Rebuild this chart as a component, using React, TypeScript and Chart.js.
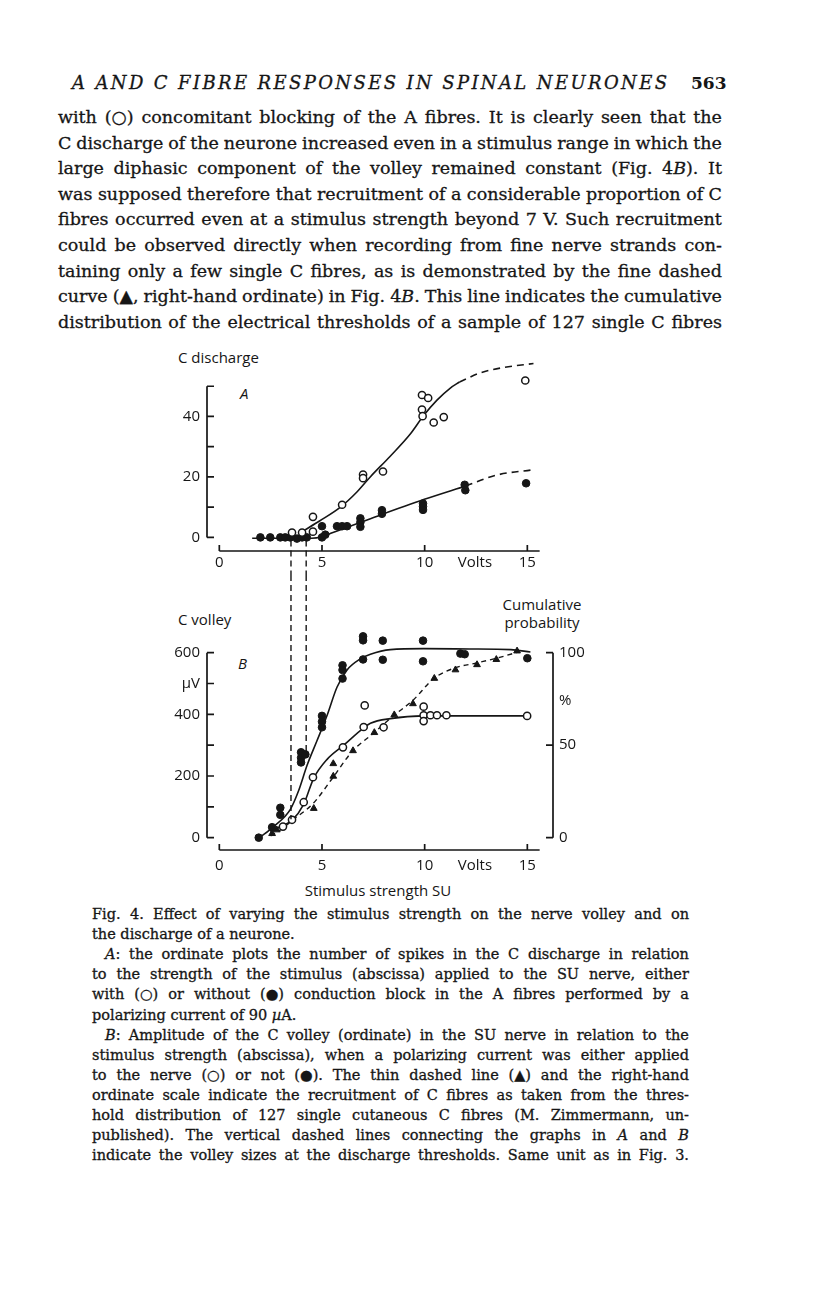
import React, { useEffect, useRef } from 'react';
import { Chart, registerables } from 'chart.js';

Chart.register(...registerables);

const INK = '#161616';
const AXIS_FONT = "'Open Sans', 'DejaVu Sans', sans-serif";
const SERIF = "'DejaVu Serif', 'Liberation Serif', serif";

// ---------- Panel A: C discharge (spikes) vs stimulus (V) ----------
const aOpenVolts = [3.54, 4.03, 4.56, 4.56, 5.98, 7.0, 7.0, 7.97, 9.87, 10.17, 9.87, 9.9, 10.44, 10.93, 14.9];
const aOpenSpikes = [1.6, 1.6, 6.8, 1.9, 10.8, 20.8, 19.6, 21.8, 47.1, 46.1, 42.3, 40.1, 38, 39.8, 51.9];
const aFilledVolts = [2.0, 2.48, 2.97, 3.21, 3.45, 3.78, 4.03, 4.26, 5.0, 5.0, 5.16, 5.73, 5.98, 6.22, 6.87, 6.87, 6.87, 7.92, 7.92, 9.92, 9.92, 9.92, 11.95, 11.98, 14.94];
const aFilledSpikes = [0, 0, 0, 0, 0, -0.4, 0, 0, 3.7, 0, 0.9, 3.7, 3.7, 3.7, 6.3, 5.0, 3.5, 9.0, 7.8, 11.2, 10.2, 9.1, 17.4, 15.6, 17.9];
const aOpenFitVolts = [4.1, 4.9, 5.9, 6.7, 7.35, 8.3, 9.3, 9.95, 10.6, 11.25, 11.7];
const aOpenFitSpikes = [2.2, 5.5, 10, 15, 20, 26.7, 34.2, 40.3, 45.4, 49.4, 51.4];
const aOpenExtVolts = [11.7, 12.7, 13.85, 15.3];
const aOpenExtSpikes = [51.4, 54.4, 56.2, 57.5];
const aFilledFitVolts = [1.6, 4.5, 5.0, 5.5, 6.05, 7.36, 9.95, 12.0];
const aFilledFitSpikes = [-0.3, -0.3, 0.2, 1.5, 2.9, 6.2, 12.5, 17];
const aFilledExtVolts = [12.0, 13.5, 15.3];
const aFilledExtSpikes = [17, 20.6, 22.4];

// ---------- Panel B: C volley (µV) and cumulative probability (%) ----------
const bFilledVolts = [1.92, 2.57, 2.97, 2.97, 3.98, 3.98, 3.98, 4.19, 5.0, 5.0, 5.0, 6.0, 6.0, 6.0, 7.0, 7.0, 7.0, 7.96, 7.96, 9.92, 9.92, 11.74, 11.95, 15.0];
const bFilledMicroV = [0, 34, 97, 74, 277, 259, 244, 270, 395, 376, 358, 559, 544, 516, 653, 640, 578, 639, 577, 639, 572, 597, 595, 582];
const bOpenVolts = [3.1, 3.54, 4.11, 4.56, 6.02, 7.03, 7.08, 8.0, 9.95, 9.95, 9.95, 10.28, 10.6, 11.06, 14.99];
const bOpenMicroV = [36, 58, 115, 196, 293, 359, 429, 358, 425, 397, 378, 397, 397, 397, 395];
const triVolts = [2.57, 2.8, 4.6, 5.55, 5.55, 6.51, 7.55, 8.52, 9.43, 10.47, 11.5, 12.55, 13.49, 14.5];
const triPercent = [2.2, 4.2, 15.8, 40.0, 33.2, 47.0, 56.8, 66.4, 72.4, 86.1, 90.7, 93.5, 96.3, 100.9];
const bFilledFitVolts = [1.95, 2.65, 3.46, 3.86, 4.27, 4.76, 5.25, 5.73, 6.22, 6.87, 7.36, 8.33, 9.95, 12.2, 14.2, 15.15];
const bFilledFitMicroV = [0, 36, 92, 152, 234, 315, 397, 488, 544, 580, 595, 610, 613, 612, 610, 602];
const bOpenFitVolts = [2.48, 3.13, 3.54, 4.1, 4.6, 5.25, 6.06, 7.03, 7.36, 8.33, 9.95, 15.0];
const bOpenFitMicroV = [20, 41, 56, 107, 193, 254, 300, 356, 371, 386, 395, 395];
const triFitVolts = [2.5, 3.0, 3.55, 4.58, 5.5, 6.5, 7.4, 8.5, 9.46, 10.44, 11.4, 12.55, 13.5, 14.6];
const triFitPercent = [1, 4.3, 9.3, 18.6, 32, 47, 55.5, 66, 74.6, 86, 91.5, 94.5, 97, 100.5];

// discharge thresholds (V) and the volley size at each (µV)
const thresholdVolts = [3.49, 4.23];
const thresholdVolleyMicroV = [60, 270];
const thresholdStartSpikes = -1;

// ---------- ticks ----------
const xTickMarks = [0, 5, 10, 15];
const xLabelValues = [0, 5, 10, 12.45, 15];
const xLabels = ['0', '5', '10', 'Volts', '15'];
const xAxisEnd = 15.6;
const aYTickMarks = [0, 10, 20, 30, 40, 50];
const aYLabelValues = [0, 20, 40];
const aYLabels = ['0', '20', '40'];
const bYTickMarks = [0, 100, 200, 300, 400, 500, 600];
const bYLabelValues = [0, 200, 400, 500, 600];
const bYLabels = ['0', '200', '400', 'µV', '600'];
const rightTickMarks = [0, 50, 100];
const rightLabelValues = [0, 50, 74, 100];
const rightLabels = ['0', '50', '%', '100'];
const MICROV_PER_PERCENT = 6;

// scale ranges
const X_MIN = -0.6;
const X_MAX = 16.25;
const A_Y_MIN = -4.5;
const A_Y_MAX = 60;
const B_Y_MIN = -40;
const B_Y_MAX = 800;

const pts = (xs: number[], ys: number[]) => xs.map((x, i) => ({ x, y: ys[i] }));

const openPoints = (data: any, yAxisID = 'y') => ({
  data, showLine: false, pointRadius: 3.6, pointBorderWidth: 1.5,
  pointBackgroundColor: '#ffffff', pointBorderColor: INK, yAxisID,
});
const filledPoints = (data: any, yAxisID = 'y') => ({
  data, showLine: false, pointRadius: 3.8, pointBorderWidth: 1,
  pointBackgroundColor: INK, pointBorderColor: INK, yAxisID,
});
const triPoints = (data: any, yAxisID = 'y') => ({
  data, showLine: false, pointStyle: 'triangle', pointRadius: 3.9, pointBorderWidth: 1,
  pointBackgroundColor: INK, pointBorderColor: INK, yAxisID,
});
const curve = (data: any, dash: number[], width = 1.6, yAxisID = 'y') => ({
  data, showLine: true, pointRadius: 0, borderColor: INK, borderWidth: width,
  borderDash: dash, cubicInterpolationMode: 'monotone', fill: false, yAxisID,
});

function makeFramePlugin(cfg: any) {
  return {
    id: 'paperFrame',
    afterDatasetsDraw(chart: any) {
      const { ctx, chartArea } = chart;
      const xs = chart.scales.x;
      const ys = chart.scales.y;
      ctx.save();
      ctx.strokeStyle = INK;
      ctx.lineWidth = 1.7;
      ctx.setLineDash([]);
      ctx.beginPath();
      const lx = chartArea.left;
      ctx.moveTo(lx, ys.getPixelForValue(cfg.yTop));
      ctx.lineTo(lx, ys.getPixelForValue(0));
      cfg.yTicks.forEach((v: number) => {
        const p = ys.getPixelForValue(v);
        ctx.moveTo(lx, p);
        ctx.lineTo(lx + 7, p);
      });
      const by = chartArea.bottom;
      ctx.moveTo(xs.getPixelForValue(0), by);
      ctx.lineTo(xs.getPixelForValue(xAxisEnd), by);
      xTickMarks.forEach((v) => {
        const p = xs.getPixelForValue(v);
        ctx.moveTo(p, by);
        ctx.lineTo(p, by - 6);
      });
      if (cfg.rightTicks) {
        const r = chart.scales.y1;
        const rx = chartArea.right;
        ctx.moveTo(rx, r.getPixelForValue(100));
        ctx.lineTo(rx, r.getPixelForValue(0));
        cfg.rightTicks.forEach((v: number) => {
          const p = r.getPixelForValue(v);
          ctx.moveTo(rx, p);
          ctx.lineTo(rx - 7, p);
        });
      }
      ctx.stroke();
      // vertical dashed threshold lines
      ctx.lineWidth = 1.4;
      ctx.setLineDash([6, 4]);
      ctx.beginPath();
      thresholdVolts.forEach((v, i) => {
        const px = xs.getPixelForValue(v);
        if (cfg.panel === 'A') {
          ctx.moveTo(px, ys.getPixelForValue(thresholdStartSpikes));
          ctx.lineTo(px, chart.height);
        } else {
          ctx.moveTo(px, 0);
          ctx.lineTo(px, ys.getPixelForValue(thresholdVolleyMicroV[i]));
        }
      });
      ctx.stroke();
      ctx.restore();
    },
  };
}

const tickFont = { family: AXIS_FONT, size: 15 };

const xScale = (height: number, padding: number) => ({
  type: 'linear', min: X_MIN, max: X_MAX,
  grid: { display: false, drawTicks: false }, border: { display: false },
  afterBuildTicks: (s: any) => { s.ticks = xLabelValues.map((value) => ({ value })); },
  afterFit: (s: any) => { s.height = height; },
  ticks: { autoSkip: false, maxRotation: 0, padding, color: INK, font: tickFont, callback: (_v: any, i: number) => xLabels[i] },
});

function configA() {
  return {
    type: 'scatter',
    data: {
      datasets: [
        openPoints(pts(aOpenVolts, aOpenSpikes)),
        filledPoints(pts(aFilledVolts, aFilledSpikes)),
        curve(pts(aOpenFitVolts, aOpenFitSpikes), []),
        curve(pts(aOpenExtVolts, aOpenExtSpikes), [7, 5]),
        curve(pts(aFilledFitVolts, aFilledFitSpikes), []),
        curve(pts(aFilledExtVolts, aFilledExtSpikes), [7, 5]),
      ],
    },
    options: {
      responsive: false, animation: false, devicePixelRatio: 1, events: [],
      layout: { padding: { right: 47, top: 0, left: 0, bottom: 0 } },
      plugins: { legend: { display: false }, tooltip: { enabled: false } },
      scales: {
        x: xScale(24, 3),
        y: {
          type: 'linear', min: A_Y_MIN, max: A_Y_MAX,
          grid: { display: false, drawTicks: false }, border: { display: false },
          afterBuildTicks: (s: any) => { s.ticks = aYLabelValues.map((value) => ({ value })); },
          afterFit: (s: any) => { s.width = 57; },
          ticks: { autoSkip: false, padding: 7, color: INK, font: tickFont, callback: (_v: any, i: number) => aYLabels[i] },
        },
      },
    },
    plugins: [makeFramePlugin({ panel: 'A', yTop: 50, yTicks: aYTickMarks })],
  };
}

function configB() {
  return {
    type: 'scatter',
    data: {
      datasets: [
        openPoints(pts(bOpenVolts, bOpenMicroV)),
        filledPoints(pts(bFilledVolts, bFilledMicroV)),
        triPoints(pts(triVolts, triPercent), 'y1'),
        curve(pts(bFilledFitVolts, bFilledFitMicroV), []),
        curve(pts(bOpenFitVolts, bOpenFitMicroV), []),
        curve(pts(triFitVolts, triFitPercent), [5, 4], 1.4, 'y1'),
      ],
    },
    options: {
      responsive: false, animation: false, devicePixelRatio: 1, events: [],
      layout: { padding: 0 },
      plugins: { legend: { display: false }, tooltip: { enabled: false } },
      scales: {
        x: xScale(30, 7),
        y: {
          type: 'linear', position: 'left', min: B_Y_MIN, max: B_Y_MAX,
          grid: { display: false, drawTicks: false }, border: { display: false },
          afterBuildTicks: (s: any) => { s.ticks = bYLabelValues.map((value) => ({ value })); },
          afterFit: (s: any) => { s.width = 57; },
          ticks: { autoSkip: false, padding: 7, color: INK, font: tickFont, callback: (_v: any, i: number) => bYLabels[i] },
        },
        y1: {
          type: 'linear', position: 'right',
          min: B_Y_MIN / MICROV_PER_PERCENT, max: B_Y_MAX / MICROV_PER_PERCENT,
          grid: { display: false, drawTicks: false }, border: { display: false },
          afterBuildTicks: (s: any) => { s.ticks = rightLabelValues.map((value) => ({ value })); },
          afterFit: (s: any) => { s.width = 47; },
          ticks: { autoSkip: false, padding: 6, color: INK, font: tickFont, callback: (_v: any, i: number) => rightLabels[i] },
        },
      },
    },
    plugins: [makeFramePlugin({ panel: 'B', yTop: 600, yTicks: bYTickMarks, rightTicks: rightTickMarks })],
  };
}

function ChartCanvas({ make, left, top, width, height }: any) {
  const ref = useRef<HTMLCanvasElement>(null);
  useEffect(() => {
    const chart = new Chart(ref.current as HTMLCanvasElement, make() as any);
    return () => chart.destroy();
  }, []);
  return (
    <canvas ref={ref} width={width} height={height}
      style={{ position: 'absolute', left, top, width, height, display: 'block' }} />
  );
}

// ---------- text helpers ----------
let measurer: CanvasRenderingContext2D | null = null;
function measure(text: string, font: string) {
  if (!measurer) measurer = document.createElement('canvas').getContext('2d');
  measurer!.font = font;
  return measurer!.measureText(text).width;
}

function segs(word: string) {
  const parts = word.split('_');
  return parts.map((p, i) => (i % 2 === 1 ? <i key={i}>{p}</i> : <React.Fragment key={i}>{p}</React.Fragment>));
}

function TextLine({ text, x, y, w, size, h, justify = true, family = SERIF }: any) {
  const font = `${size}px ${family}`;
  const words: string[] = text.split(' ');
  const plain = words.map((wd) => wd.replace(/_/g, ''));
  const wordsW = plain.reduce((s, wd) => s + measure(wd, font), 0);
  const spaceW = measure(' ', font);
  const chars = plain.reduce((s, wd) => s + wd.length, 0);
  const need = wordsW + spaceW * 0.8 * (words.length - 1);
  let ls = 0;
  if (need > w) ls = (w - need) / chars;
  const style: any = {
    position: 'absolute', left: x, top: y - h / 2, width: w, height: h,
    lineHeight: `${h}px`, fontFamily: family, fontSize: size, color: INK,
    whiteSpace: 'nowrap', letterSpacing: ls ? `${ls}px` : 'normal',
    display: justify ? 'flex' : 'block', justifyContent: 'space-between',
    WebkitTextStroke: `0.3px ${INK}`,
  };
  return (
    <div style={style}>
      {justify
        ? words.map((wd, i) => <span key={i}>{segs(wd)}</span>)
        : words.map((wd, i) => <React.Fragment key={i}>{i ? ' ' : ''}{segs(wd)}</React.Fragment>)}
    </div>
  );
}

function SpacedLine({ text, x, y, w, size, h, italic }: any) {
  const font = `${italic ? 'italic ' : ''}${size}px ${SERIF}`;
  const natural = measure(text, font);
  const ls = (w - natural) / (text.length - 1);
  return (
    <div style={{
      position: 'absolute', left: x, top: y - h / 2, height: h, lineHeight: `${h}px`,
      fontFamily: SERIF, fontSize: size, fontStyle: italic ? 'italic' : 'normal',
      letterSpacing: `${ls}px`, whiteSpace: 'nowrap', color: INK, WebkitTextStroke: `0.3px ${INK}`,
    }}>{text}</div>
  );
}

function Label({ children, x, y, size = 15, align = 'left', italic = false, family = AXIS_FONT }: any) {
  const style: any = {
    position: 'absolute', top: y - size * 0.7, lineHeight: `${size * 1.4}px`, fontFamily: family,
    fontSize: size, color: INK, whiteSpace: 'nowrap', fontStyle: italic ? 'italic' : 'normal',
  };
  if (align === 'left') style.left = x;
  else if (align === 'center') { style.left = x; style.transform = 'translateX(-50%)'; style.textAlign = 'center'; }
  return <div style={style}>{children}</div>;
}

const bodyLines = [
  'with (○) concomitant blocking of the A fibres. It is clearly seen that the',
  'C discharge of the neurone increased even in a stimulus range in which the',
  'large diphasic component of the volley remained constant (Fig. 4_B_). It',
  'was supposed therefore that recruitment of a considerable proportion of C',
  'fibres occurred even at a stimulus strength beyond 7 V. Such recruitment',
  'could be observed directly when recording from fine nerve strands con-',
  'taining only a few single C fibres, as is demonstrated by the fine dashed',
  'curve (▲, right-hand ordinate) in Fig. 4_B_. This line indicates the cumulative',
  'distribution of the electrical thresholds of a sample of 127 single C fibres',
];

const captionLines = [
  { t: 'Fig. 4. Effect of varying the stimulus strength on the nerve volley and on', j: true, ind: false },
  { t: 'the discharge of a neurone.', j: false, ind: false },
  { t: '_A_: the ordinate plots the number of spikes in the C discharge in relation', j: true, ind: true },
  { t: 'to the strength of the stimulus (abscissa) applied to the SU nerve, either', j: true, ind: false },
  { t: 'with (○) or without (●) conduction block in the A fibres performed by a', j: true, ind: false },
  { t: 'polarizing current of 90 _µ_A.', j: false, ind: false },
  { t: '_B_: Amplitude of the C volley (ordinate) in the SU nerve in relation to the', j: true, ind: true },
  { t: 'stimulus strength (abscissa), when a polarizing current was either applied', j: true, ind: false },
  { t: 'to the nerve (○) or not (●). The thin dashed line (▲) and the right-hand', j: true, ind: false },
  { t: 'ordinate scale indicate the recruitment of C fibres as taken from the thres-', j: true, ind: false },
  { t: 'hold distribution of 127 single cutaneous C fibres (M. Zimmermann, un-', j: true, ind: false },
  { t: 'published). The vertical dashed lines connecting the graphs in _A_ and _B_', j: true, ind: false },
  { t: 'indicate the volley sizes at the discharge thresholds. Same unit as in Fig. 3.', j: true, ind: false },
];

export default function App() {
  return (
    <div style={{ position: 'absolute', left: 0, top: 0, width: 816, height: 1296, background: '#fff', overflow: 'hidden' }}>
      <SpacedLine text="A AND C FIBRE RESPONSES IN SPINAL NEURONES" x={72} y={83} w={595} size={18} h={24} italic />
      <div style={{ position: 'absolute', left: 691, top: 71, lineHeight: '24px', fontFamily: SERIF, fontSize: 17, fontWeight: 700, color: INK }}>563</div>

      {bodyLines.map((t, i) => (
        <TextLine key={i} text={t} x={58} y={117 + i * 25.6} w={664} size={17.5} h={24} />
      ))}

      <Label x={178} y={357}>C discharge</Label>
      <Label x={240} y={393} italic>A</Label>
      <Label x={178} y={619}>C volley</Label>
      <Label x={238} y={663} italic>B</Label>
      <Label x={542} y={604} align="center">Cumulative</Label>
      <Label x={542} y={622} align="center">probability</Label>
      <Label x={378} y={890} align="center">Stimulus strength SU</Label>

      <ChartCanvas make={configA} left={150} top={340} width={450} height={235} />
      <ChartCanvas make={configB} left={150} top={575} width={450} height={305} />

      {captionLines.map((c, i) => (
        <TextLine key={i} text={c.t} x={c.ind ? 105 : 92} y={914 + i * 20.1}
          w={c.ind ? 584 : 597} size={14.5} h={20} justify={c.j} />
      ))}
    </div>
  );
}
